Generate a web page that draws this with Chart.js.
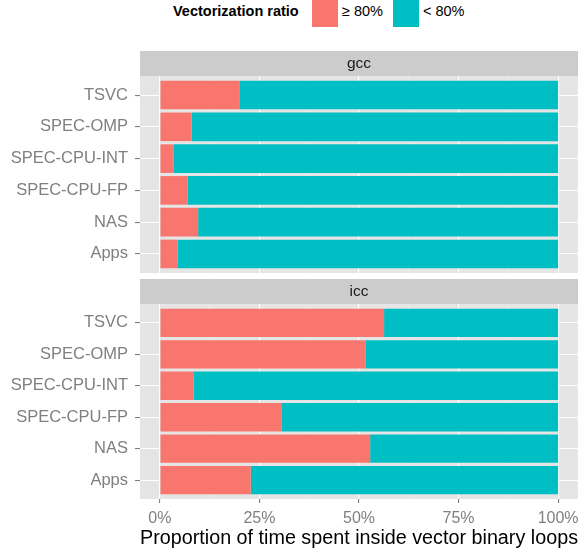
<!DOCTYPE html>
<html>
<head>
<meta charset="utf-8">
<script src="https://cdn.jsdelivr.net/npm/chart.js@4/dist/chart.umd.min.js"></script>
<style>
  html, body { margin: 0; padding: 0; background: #fff; }
  #wrap { position: relative; width: 587px; height: 552px; overflow: hidden; font-family: "Liberation Sans", Arial, sans-serif; }
  .box { position: absolute; }
  #legend span { position: absolute; white-space: nowrap; }
</style>
</head>
<body>
<div id="wrap">
  <div id="legend"></div>
  <div class="box" style="left:0;top:51px;width:587px;height:222px"><canvas id="gccChart"></canvas></div>
  <div class="box" style="left:0;top:279px;width:587px;height:273px"><canvas id="iccChart"></canvas></div>
</div>
<script>
// bottom to top, like ggplot's factor order
const benchmarks = ['Apps', 'NAS', 'SPEC-CPU-FP', 'SPEC-CPU-INT', 'SPEC-OMP', 'TSVC'];
const seriesNames = ['\u2265 80%', '< 80%'];
const seriesColors = ['#F8766D', '#00BFC4'];
const gccHigh = [4.4, 9.6, 7.0, 3.5, 8.0, 20.1];
const gccLow = [95.6, 90.4, 93.0, 96.5, 92.0, 79.9];
const iccHigh = [22.8, 52.8, 30.5, 8.5, 51.6, 56.3];
const iccLow = [77.2, 47.2, 69.5, 91.5, 48.4, 43.7];
const xTicks = [0, 12.5, 25, 37.5, 50, 62.5, 75, 87.5, 100];
const legendTitle = 'Vectorization ratio';
const xTitle = 'Proportion of time spent inside vector binary loops';

Chart.defaults.font.family = '"Liberation Sans", Arial, sans-serif';
Chart.defaults.animation = false;

// legend, ggplot style, on top
const legend = document.getElementById('legend');
function addSpan(text, left, top, css) {
  const s = document.createElement('span');
  s.textContent = text;
  s.style.left = left + 'px';
  s.style.top = top + 'px';
  s.style.cssText += css || '';
  legend.appendChild(s);
  return s;
}
addSpan(legendTitle, 173, 3, 'font-weight:bold;font-size:14.5px;color:#000;');
const keyX = [312, 393];
seriesNames.forEach((name, i) => {
  addSpan('', keyX[i], 0, 'width:26px;height:27px;background:' + seriesColors[i] + ';');
  addSpan(name, keyX[i] + 30, 3, 'font-size:14.5px;color:#000;');
});

const panelPlugin = {
  id: 'panel',
  beforeDraw(chart, args, opts) {
    const { ctx, chartArea: a } = chart;
    ctx.save();
    ctx.fillStyle = '#e5e5e5';
    ctx.fillRect(a.left, a.top, a.right - a.left, a.bottom - a.top);
    ctx.fillStyle = '#cccccc';
    ctx.fillRect(a.left, a.top - 25, a.right - a.left, 25);
    ctx.fillStyle = '#1a1a1a';
    ctx.font = '15.5px "Liberation Sans", Arial, sans-serif';
    ctx.textAlign = 'center';
    ctx.textBaseline = 'middle';
    ctx.fillText(opts.label, (a.left + a.right) / 2, a.top - 12);
    ctx.restore();
  }
};

function makeChart(id, label, high, low, showX) {
  const pts = arr => arr.map((v, i) => ({ x: v, y: i + 1 }));
  const major = v => v % 25 === 0;
  return new Chart(document.getElementById(id), {
    type: 'bar',
    data: {
      datasets: [
        { label: seriesNames[0], data: pts(high), backgroundColor: seriesColors[0] },
        { label: seriesNames[1], data: pts(low), backgroundColor: seriesColors[1] }
      ]
    },
    options: {
      indexAxis: 'y',
      responsive: true,
      maintainAspectRatio: false,
      layout: { padding: { top: 25, right: 9, left: 0, bottom: 0 } },
      datasets: { bar: { categoryPercentage: 1, barPercentage: 0.9, borderWidth: 0 } },
      plugins: {
        legend: { display: false },
        tooltip: { enabled: false },
        panel: { label: label }
      },
      scales: {
        x: {
          type: 'linear', stacked: true, min: -5, max: 105, offset: false,
          afterBuildTicks: s => { s.ticks = xTicks.map(v => ({ value: v })); },
          afterFit: s => { s.height = showX ? 53 : 0; s.paddingLeft = 0; s.paddingRight = 0; },
          border: { display: false },
          grid: {
            color: c => major(c.tick.value) ? '#ffffff' : '#f2f2f2',
            lineWidth: c => major(c.tick.value) ? 1.1 : 0.5,
            drawTicks: showX,
            tickLength: 4,
            tickWidth: 1.1,
            tickColor: c => major(c.tick.value) ? '#7f7f7f' : 'rgba(0,0,0,0)'
          },
          ticks: {
            display: showX, autoSkip: false, maxRotation: 0, padding: 6,
            color: '#7f7f7f', font: { size: 16 },
            callback: v => major(v) ? v + '%' : ''
          },
          title: {
            display: showX, text: xTitle, color: '#000',
            font: { size: 20 }, padding: { top: 0, bottom: 2 }
          }
        },
        y: {
          type: 'linear', stacked: true, min: 0.4, max: 6.6, offset: false,
          afterBuildTicks: s => { s.ticks = benchmarks.map((b, i) => ({ value: i + 1 })); },
          afterFit: s => { s.width = 140; s.paddingTop = 0; s.paddingBottom = 0; },
          border: { display: false },
          grid: {
            color: '#ffffff', lineWidth: 1.1, offset: false,
            tickLength: 5, tickWidth: 1.1, tickColor: '#7f7f7f'
          },
          ticks: {
            autoSkip: false, padding: 7, color: '#7f7f7f', font: { size: 16.5 },
            callback: v => benchmarks[v - 1]
          }
        }
      }
    },
    plugins: [panelPlugin]
  });
}

makeChart('gccChart', 'gcc', gccHigh, gccLow, false);
makeChart('iccChart', 'icc', iccHigh, iccLow, true);
</script>
</body>
</html>
